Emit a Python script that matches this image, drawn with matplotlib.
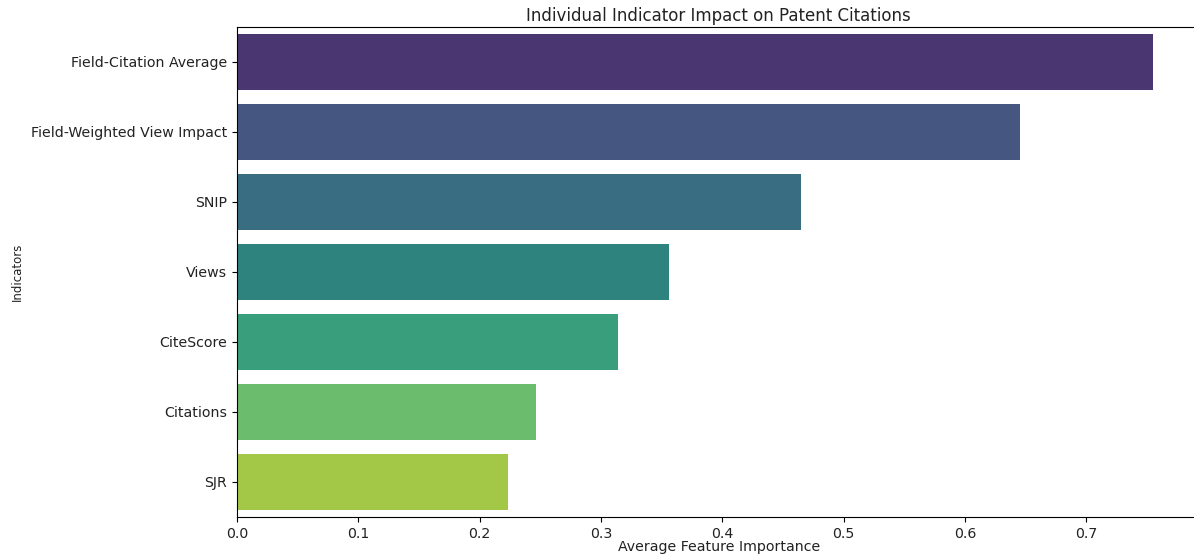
import matplotlib
matplotlib.use("Agg")
import matplotlib.pyplot as plt
import seaborn as sns
import pandas as pd

# values
indicators = ["Field-Citation Average", "Field-Weighted View Impact", "SNIP",
              "Views", "CiteScore", "Citations", "SJR"]
importance = [0.755, 0.645, 0.465, 0.356, 0.314, 0.246, 0.223]

df = pd.DataFrame({"Indicator": indicators, "Importance": importance})

fig = plt.figure(figsize=(11.94, 5.54), dpi=100)
ax = fig.add_axes([0.1985, 0.0668, 0.807, 0.8845])

sns.barplot(data=df, x="Importance", y="Indicator", hue="Indicator",
            palette="viridis", legend=False, ax=ax)

ax.set_title("Individual Indicator Impact on Patent Citations", fontsize=12, pad=4, color="#222222")
ax.set_xlabel("Average Feature Importance", fontsize=10.2, color="#222222", va="center")
ax.set_ylabel("Indicators", fontsize=8.5, color="#222222", va="center")
ax.xaxis.set_label_coords(0.5, -0.061)
ax.yaxis.set_label_coords(-0.228, 0.5)
ax.tick_params(axis="both", labelsize=10.2, labelcolor="#222222")
ax.spines["right"].set_visible(False)
ax.set_xlim(0, 0.794)

fig.savefig("out.png", dpi=100)
